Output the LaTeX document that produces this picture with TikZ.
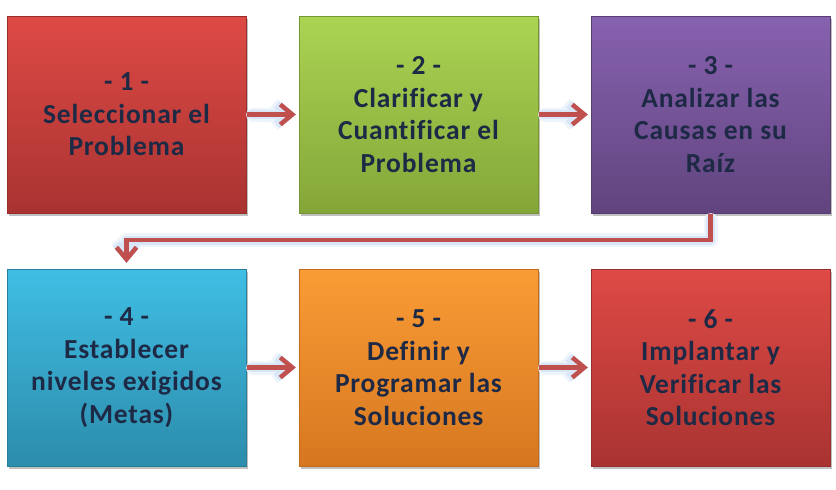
\documentclass[tikz,border=0pt]{standalone}
\usepackage{fontspec}
\setmainfont{Carlito}[LetterSpace=3,Ligatures=NoCommon]
\usetikzlibrary{arrows.meta,shadows}
\definecolor{txt}{HTML}{1E2A45}
\definecolor{redT}{HTML}{DE4A45}\definecolor{redB}{HTML}{A93331}
\definecolor{grnT}{HTML}{ABD453}\definecolor{grnB}{HTML}{84A638}
\definecolor{purT}{HTML}{8762B0}\definecolor{purB}{HTML}{61447E}
\definecolor{cyaT}{HTML}{40BEE4}\definecolor{cyaB}{HTML}{2C8CAB}
\definecolor{oraT}{HTML}{FA9C35}\definecolor{oraB}{HTML}{D67720}
\definecolor{arr}{HTML}{C0504D}
\definecolor{glowA}{HTML}{EEF4FC}\definecolor{glowB}{HTML}{D8E6F8}
\tikzset{
  stepbox/.style={minimum width=239pt, minimum height=197pt, inner sep=0pt,
    align=center, text=txt, font=\fontsize{27.5}{32.5}\selectfont\bfseries,
    drop shadow={shadow xshift=2pt, shadow yshift=-3pt, opacity=0.35, fill=black!70}},
  tip/.style={-{Straight Barb[length=12pt,width=20pt]}},
  glow1/.style={draw=glowA, line width=14pt, line join=round, line cap=round, tip},
  glow2/.style={draw=glowB, line width=9pt, line join=round, line cap=round, tip},
  flow/.style={draw=arr, line width=4.5pt, line join=miter, tip},
}
\begin{document}
\begin{tikzpicture}[x=1pt,y=-1pt]
\useasboundingbox (0,0) rectangle (836,490);
\fill[white] (0,0) rectangle (836,490);
\path (126.5,114.5) coordinate (c1) (418.5,114.5) coordinate (c2) (710.5,114.5) coordinate (c3)
      (126.5,367.5) coordinate (c4) (418.5,367.5) coordinate (c5) (710.5,367.5) coordinate (c6);
% boxes
\node[stepbox, top color=redT, bottom color=redB, draw=redB!90!black] (b1) at (c1)
  {- 1 -\\Seleccionar el\\Problema};
\node[stepbox, top color=grnT, bottom color=grnB, draw=grnB!90!black] (b2) at (c2)
  {- 2 -\\Clarificar y\\Cuantificar el\\Problema};
\node[stepbox, top color=purT, bottom color=purB, draw=purB!90!black] (b3) at (c3)
  {- 3 -\\Analizar las\\Causas en su\\Raíz};
\node[stepbox, top color=cyaT, bottom color=cyaB, draw=cyaB!90!black] (b4) at (c4)
  {- 4 -\\Establecer\\niveles exigidos\\(Metas)};
\node[stepbox, top color=oraT, bottom color=oraB, draw=oraB!90!black] (b5) at (c5)
  {- 5 -\\Definir y\\Programar las\\Soluciones};
\node[stepbox, top color=redT, bottom color=redB, draw=redB!90!black] (b6) at (c6)
  {- 6 -\\Implantar y\\Verificar las\\Soluciones};
% connectors (soft glow, then the line)
\foreach \s/\t in {b1/b2,b2/b3,b4/b5,b5/b6}{
  \draw[glow1, shorten <=7pt, shorten >=3pt] (\s.east) -- (\t.west);
  \draw[glow2, shorten <=5pt, shorten >=3pt] (\s.east) -- (\t.west);
  \draw[flow, shorten <=0.5pt, shorten >=3pt] (\s.east) -- (\t.west);
}
\draw[glow1, shorten <=7pt, shorten >=6pt] (b3.south) -- ++(0,27) -| (b4.north);
\draw[glow2, shorten <=5pt, shorten >=6pt] (b3.south) -- ++(0,27) -| (b4.north);
\draw[flow, shorten <=0.5pt, shorten >=6pt] (b3.south) -- ++(0,27) -| (b4.north);
\end{tikzpicture}
\end{document}
